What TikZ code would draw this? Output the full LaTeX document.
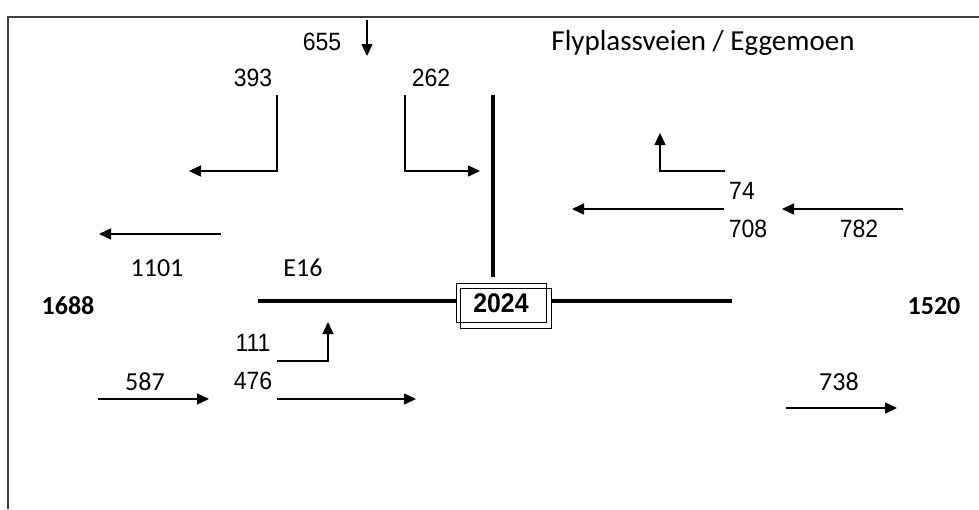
\documentclass[tikz,border=0pt]{standalone}
\usepackage{fontspec}
\setmainfont{Liberation Sans}
\newfontfamily\calfont{Carlito}
\usetikzlibrary{arrows.meta}
\newcommand{\nar}[1]{\scalebox{0.92}[1]{#1}}
\begin{document}
\begin{tikzpicture}[x=1pt,y=-1pt,
  flow/.style={line width=1.4pt,-{Triangle[length=12pt,width=11pt]}},
  road/.style={line width=4.5pt},
  ar/.style={font=\fontsize{25}{28}\selectfont, inner sep=0pt},
  ca/.style={font=\calfont\fontsize{26}{29}\selectfont, inner sep=0pt},
  cb/.style={font=\calfont\bfseries\fontsize{26}{29}\selectfont, inner sep=0pt}]
\useasboundingbox (0,0) rectangle (979,509);
% frame
\draw[line width=2pt, draw=black!75] (8,509) -- (8,17) -- (979,17);

% texts
\node[ar] (t655) at (322,42) {\nar{655}};
\node[ar] (t393) at (253,78) {\nar{393}};
\node[ar] (t262) at (431,78) {\nar{262}};
\node[ca, font=\calfont\fontsize{29}{32}\selectfont, anchor=base] (title) at (703,50) {Flyplassveien / Eggemoen};
\node[ar] (t74) at (742,191) {\nar{74}};
\node[ar] (t708) at (748,229) {\nar{708}};
\node[ar] (t782) at (859,229) {\nar{782}};
\node[ca] (t1101) at (157,268) {1101};
\node[ca] (tE16) at (303,268) {E16};
\node[cb] (t1688) at (68,306) {1688};
\node[cb] (t1520) at (934,306) {1520};
\node[ar] (t111) at (253,343) {\nar{111}};
\node[ar] (t476) at (253,381) {\nar{476}};
\node[ca] (t587) at (145,382) {587};
\node[ca] (t738) at (839,382) {738};

% central box
\node[draw, line width=1pt, minimum width=90pt, minimum height=39pt, inner sep=0pt,
      font=\bfseries\fontsize{27}{29}\selectfont] (box) at (501,303) {\nar{2024}};
\draw[line width=1pt] ([shift={(5,5)}]box.north west) rectangle ([shift={(5,5)}]box.south east);

% roads
\coordinate (rw) at (258,301);
\coordinate (re) at (732,301);
\coordinate (rn1) at (493,95);
\coordinate (rn2) at (493,277);
\draw[road] (rw) -- (rw -| box.west);
\draw[road] (re -| box.east) ++(5,0) -- (re);
\draw[road] (rn1) -- (rn2);

% arrows
\coordinate (a655s) at (367,20);  \coordinate (a655e) at (367,56);
\draw[flow] (a655s) -- (a655e);

\coordinate (a393s) at (277,95);  \coordinate (a393e) at (189,171);
\draw[flow] (a393s) |- (a393e);

\coordinate (a262s) at (405,95);  \coordinate (a262e) at (480,171);
\draw[flow] (a262s) |- (a262e);

\coordinate (a74s) at (725,171);  \coordinate (a74e) at (660,133);
\draw[flow] (a74s) -| (a74e);

\coordinate (a708s) at (724,209); \coordinate (a708e) at (572,209);
\draw[flow] (a708s) -- (a708e);

\coordinate (a782s) at (903,209); \coordinate (a782e) at (782,209);
\draw[flow] (a782s) -- (a782e);

\coordinate (a1101s) at (221,234); \coordinate (a1101e) at (99,234);
\draw[flow] (a1101s) -- (a1101e);

\coordinate (a111s) at (277,361); \coordinate (a111e) at (328,322);
\draw[flow] (a111s) -| (a111e);

\coordinate (a587s) at (98,399); \coordinate (a587e) at (209,399);
\draw[flow] (a587s) -- (a587e);

\coordinate (a476s) at (277,399); \coordinate (a476e) at (416,399);
\draw[flow] (a476s) -- (a476e);

\coordinate (a738s) at (786,408); \coordinate (a738e) at (897,408);
\draw[flow] (a738s) -- (a738e);
\end{tikzpicture}
\end{document}
